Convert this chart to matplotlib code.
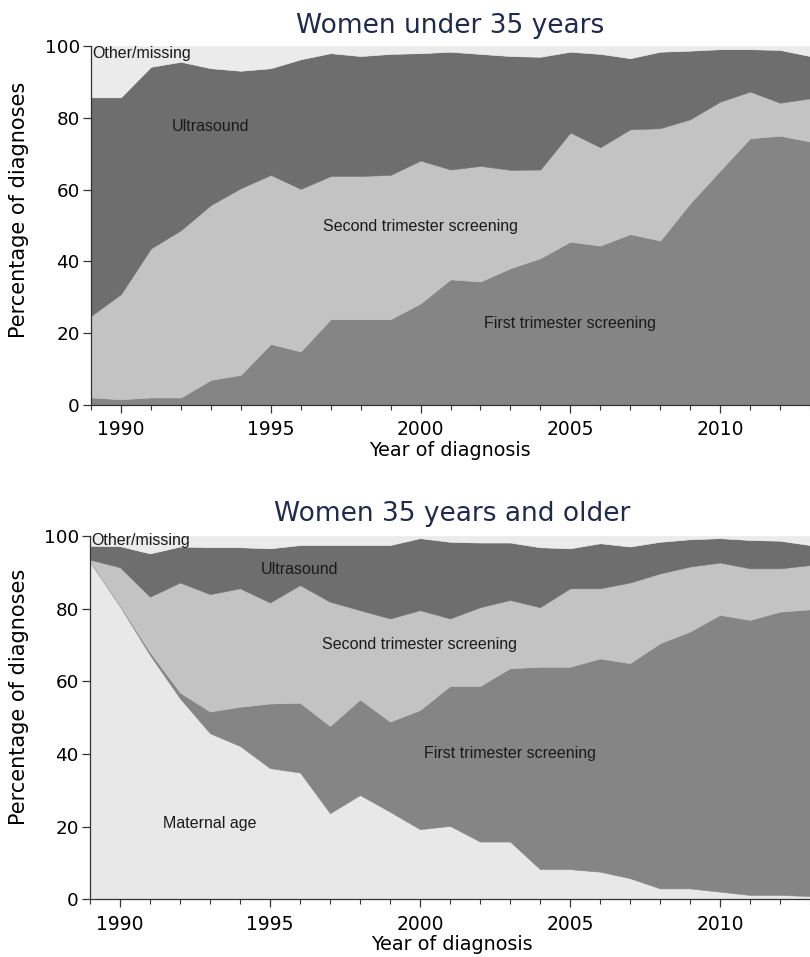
import matplotlib
matplotlib.use("Agg")
import matplotlib.pyplot as plt
from matplotlib.ticker import MultipleLocator

years = list(range(1989, 2014))

# women under 35 (percent of diagnoses per year)
u35_first = [2.1, 1.6, 2.1, 2.1, 7.0, 8.4, 17.0, 14.9, 23.9, 23.9, 23.9, 28.3, 35.0,
             34.4, 38.1, 40.9, 45.5, 44.4, 47.6, 45.8, 56.2, 65.3, 74.3, 75.0, 73.4]
u35_second = [22.7, 29.3, 41.5, 46.6, 48.7, 52.0, 47.1, 45.3, 39.9, 39.9, 40.2, 39.8, 30.6,
              32.2, 27.4, 24.7, 30.4, 27.4, 29.2, 31.3, 23.4, 19.2, 13.0, 9.2, 12.0]
u35_ultra = [60.9, 54.8, 50.6, 46.9, 38.1, 32.7, 29.7, 36.1, 34.2, 33.4, 33.7, 29.9, 32.8,
             31.2, 31.7, 31.4, 22.5, 26.0, 19.8, 21.3, 19.1, 14.6, 11.8, 14.7, 11.8]
u35_other = [14.3, 14.3, 5.8, 4.4, 6.2, 6.9, 6.2, 3.7, 2.0, 2.8, 2.2, 2.0, 1.6,
             2.2, 2.8, 3.0, 1.6, 2.2, 3.4, 1.6, 1.3, 0.9, 0.9, 1.1, 2.8]

# women 35 and older
o35_age = [92.9, 80.6, 67.2, 55.3, 45.7, 42.2, 36.1, 34.9, 23.7, 28.7, 24.1, 19.3, 20.2,
           15.9, 15.9, 8.3, 8.3, 7.6, 5.8, 3.0, 3.0, 2.1, 1.2, 1.2, 0.9]
o35_first = [0.1, 0.2, 0.8, 1.6, 6.0, 10.8, 17.8, 19.2, 24.0, 26.3, 24.8, 32.8, 38.5,
             42.8, 47.7, 55.7, 55.7, 58.7, 59.2, 67.5, 70.7, 76.2, 75.7, 78.0, 78.9]
o35_second = [0.5, 10.6, 15.3, 30.3, 32.3, 32.6, 27.8, 32.4, 34.2, 24.6, 28.4, 27.5, 18.6,
              21.7, 18.8, 16.4, 21.6, 19.3, 22.2, 19.2, 17.9, 14.4, 14.2, 11.9, 12.2]
o35_ultra = [3.8, 5.8, 11.9, 9.9, 12.9, 11.3, 14.9, 11.0, 15.6, 17.9, 20.2, 19.8, 21.1,
             17.8, 15.8, 16.5, 11.0, 12.4, 9.9, 8.7, 7.5, 6.7, 7.8, 7.6, 5.5]
o35_other = [2.8, 2.8, 4.8, 2.9, 3.1, 3.1, 3.4, 2.5, 2.5, 2.5, 2.5, 0.6, 1.6,
             1.8, 1.8, 3.1, 3.4, 2.0, 2.9, 1.6, 0.9, 0.6, 1.1, 1.3, 2.5]

c_first = "#858585"
c_second = "#c3c3c3"
c_ultra = "#6e6e6e"
c_other = "#ebebeb"
c_age = "#e8e8e8"
title_col = "#1f2a4d"

W, H = 810, 957
fig = plt.figure(figsize=(W / 100, H / 100), dpi=100)
fig.patch.set_facecolor("white")


def style_axes(ax):
    ax.set_xlim(1989, 2013)
    ax.set_ylim(0, 100)
    for s in ["top", "right"]:
        ax.spines[s].set_visible(False)
    for s in ["left", "bottom"]:
        ax.spines[s].set_color("#333333")
        ax.spines[s].set_linewidth(0.9)
    ax.set_xticks([1990, 1995, 2000, 2005, 2010])
    ax.xaxis.set_minor_locator(MultipleLocator(1))
    ax.set_yticks([0, 20, 40, 60, 80, 100])
    ax.tick_params(axis="x", which="major", length=6, width=0.9, labelsize=13.5,
                   pad=5, color="#333333")
    ax.tick_params(axis="x", which="minor", length=3.5, width=0.8, color="#333333")
    ax.tick_params(axis="y", length=6, width=0.9, labelsize=13.2, pad=2, color="#333333")
    for lab in ax.get_xticklabels() + ax.get_yticklabels():
        lab.set_family("DejaVu Sans")


label_kw = dict(fontsize=11.5, family="Liberation Sans", color="#1a1a1a")

# top panel
ax1 = fig.add_axes([91 / W, (H - 405) / H, 719 / W, 359 / H])
ax1.stackplot(years, u35_first, u35_second, u35_ultra, u35_other,
              colors=[c_first, c_second, c_ultra, c_other],
              linewidth=0.4, edgecolor="face")
style_axes(ax1)
ax1.text(1989.05, 97.8, "Other/missing", ha="left", va="center", **label_kw)
ax1.text(1993, 77.7, "Ultrasound", ha="center", va="center", **label_kw)
ax1.text(2000, 49.7, "Second trimester screening", ha="center", va="center", **label_kw)
ax1.text(2005, 22.8, "First trimester screening", ha="center", va="center", **label_kw)

# bottom panel
ax2 = fig.add_axes([90 / W, (H - 899.3) / H, 720 / W, 363.3 / H])
ax2.stackplot(years, o35_age, o35_first, o35_second, o35_ultra, o35_other,
              colors=[c_age, c_first, c_second, c_ultra, c_other],
              linewidth=0.4, edgecolor="face")
style_axes(ax2)
ax2.text(1989.05, 98.7, "Other/missing", ha="left", va="center", **label_kw)
ax2.text(1996, 90.8, "Ultrasound", ha="center", va="center", **label_kw)
ax2.text(2000, 70, "Second trimester screening", ha="center", va="center", **label_kw)
ax2.text(2003, 40, "First trimester screening", ha="center", va="center", **label_kw)
ax2.text(1993, 20.9, "Maternal age", ha="center", va="center", **label_kw)

# titles and axis labels
fig.text(450 / W, 1 - 33 / H, "Women under 35 years", ha="center", va="baseline",
         fontsize=19, family="DejaVu Sans", color=title_col)
fig.text(452 / W, 1 - 521 / H, "Women 35 years and older", ha="center", va="baseline",
         fontsize=19, family="DejaVu Sans", color=title_col)

fig.text(450 / W, 1 - 451 / H, "Year of diagnosis", ha="center", va="center",
         fontsize=13.8, family="DejaVu Sans")
fig.text(452 / W, 1 - 945 / H, "Year of diagnosis", ha="center", va="center",
         fontsize=13.8, family="DejaVu Sans")
fig.text(19 / W, 1 - 210 / H, "Percentage of diagnoses", ha="center", va="center",
         rotation=90, fontsize=15, family="DejaVu Sans")
fig.text(19 / W, 1 - 697 / H, "Percentage of diagnoses", ha="center", va="center",
         rotation=90, fontsize=15, family="DejaVu Sans")

fig.savefig("out.png", dpi=100)
